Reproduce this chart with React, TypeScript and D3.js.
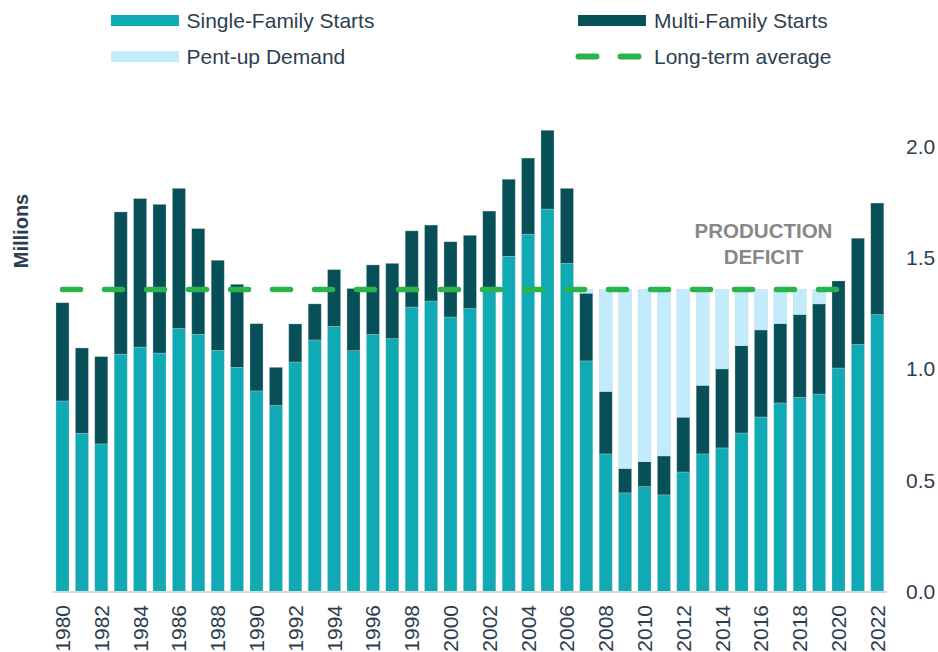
import React from "react";
import * as d3 from "d3";

const years: number[] = [
  1980, 1981, 1982, 1983, 1984, 1985, 1986, 1987, 1988, 1989,
  1990, 1991, 1992, 1993, 1994, 1995, 1996, 1997, 1998, 1999,
  2000, 2001, 2002, 2003, 2004, 2005, 2006, 2007, 2008, 2009,
  2010, 2011, 2012, 2013, 2014, 2015, 2016, 2017, 2018, 2019,
  2020, 2021, 2022,
];

const singleFamily: number[] = [
  0.856, 0.711, 0.663, 1.066, 1.098, 1.071, 1.182, 1.155, 1.083, 1.007,
  0.901, 0.836, 1.031, 1.130, 1.191, 1.082, 1.155, 1.136, 1.278, 1.305,
  1.233, 1.271, 1.349, 1.506, 1.605, 1.718, 1.474, 1.036, 0.618, 0.443,
  0.471, 0.434, 0.537, 0.618, 0.645, 0.712, 0.784, 0.847, 0.872, 0.887,
  1.004, 1.110, 1.244,
];

const multiFamily: number[] = [
  0.441, 0.383, 0.392, 0.639, 0.667, 0.668, 0.629, 0.475, 0.405, 0.373,
  0.302, 0.171, 0.171, 0.162, 0.255, 0.279, 0.312, 0.338, 0.342, 0.341,
  0.338, 0.329, 0.360, 0.346, 0.342, 0.354, 0.337, 0.304, 0.280, 0.109,
  0.112, 0.175, 0.246, 0.308, 0.355, 0.392, 0.391, 0.356, 0.372, 0.405,
  0.391, 0.477, 0.501,
];

const pentUp: number[] = [
  0, 0, 0, 0, 0, 0, 0, 0, 0, 0,
  0, 0, 0, 0, 0, 0, 0, 0, 0, 0,
  0, 0, 0, 0, 0, 0, 0, 0.017, 0.459, 0.805,
  0.774, 0.748, 0.574, 0.431, 0.357, 0.253, 0.182, 0.154, 0.113, 0.065,
  0, 0, 0,
];

const longTermAverage = 1.357;
const averageFrom = 1980;
const averageTo = 2020;

const yTicks: number[] = [0, 0.5, 1.0, 1.5, 2.0];

const legendItems = [
  { label: "Single-Family Starts", kind: "rect", color: "#10aab5" },
  { label: "Multi-Family Starts", kind: "rect", color: "#075057" },
  { label: "Pent-up Demand", kind: "rect", color: "#c2ecfb" },
  { label: "Long-term average", kind: "dash", color: "#2bb34b" },
];

const C_SINGLE = "#10aab5";
const C_MULTI = "#075057";
const C_PENT = "#c2ecfb";
const C_AVG = "#2bb34b";
const C_TEXT = "#2d3e50";
const FONT = "'Liberation Sans', Arial, Helvetica, sans-serif";

export default function App() {
  const W = 938;
  const H = 652;

  const x = d3
    .scaleBand<number>()
    .domain(years)
    .range([52.8, 887.0])
    .paddingInner(0.33)
    .paddingOuter(0.165);

  const y = d3.scaleLinear().domain([0, 2]).range([591.5, 146.3]);

  const rows = years.map((yr, i) => ({
    year: yr,
    single: singleFamily[i],
    multi: multiFamily[i],
    pent: pentUp[i],
  }));

  const stack = d3
    .stack<any>()
    .keys(["single", "multi", "pent"])(rows);
  const colors: Record<string, string> = {
    single: C_SINGLE,
    multi: C_MULTI,
    pent: C_PENT,
  };

  const cx = (yr: number) => (x(yr) as number) + x.bandwidth() / 2;

  const legendPos = [
    { sx: 111, tx: 186.5, y: 20.5 },
    { sx: 578, tx: 654, y: 20.5 },
    { sx: 111, tx: 186.5, y: 56.5 },
    { sx: 578, tx: 654, y: 56.5 },
  ];

  return (
    <svg
      width={W}
      height={H}
      style={{ position: "absolute", left: 0, top: 0, background: "#fff" }}
      fontFamily={FONT}
    >
      {/* Legend */}
      {legendItems.map((it, i) => {
        const p = legendPos[i];
        return (
          <g key={it.label}>
            {it.kind === "rect" ? (
              <rect x={p.sx} y={p.y - 5.5} width={68} height={11} fill={it.color} />
            ) : (
              <line
                x1={p.sx + 0.5}
                x2={p.sx + 61}
                y1={p.y}
                y2={p.y}
                stroke={it.color}
                strokeWidth={6}
                strokeLinecap="round"
                strokeDasharray="18 24"
              />
            )}
            <text
              x={p.tx}
              y={p.y}
              dominantBaseline="central"
              fontSize={21}
              fill={C_TEXT}
            >
              {it.label}
            </text>
          </g>
        );
      })}

      {/* Bars */}
      {stack.map((layer) => (
        <g key={layer.key} fill={colors[layer.key]}>
          {layer.map((d: any, i: number) =>
            d[1] - d[0] > 0 ? (
              <rect
                key={i}
                x={x(d.data.year)}
                y={y(d[1])}
                width={x.bandwidth()}
                height={y(d[0]) - y(d[1])}
                stroke="rgba(190,205,205,0.55)"
                strokeWidth={0.6}
              />
            ) : null
          )}
        </g>
      ))}

      {/* Baseline */}
      <line x1={52.8} x2={887} y1={y(0) + 0.5} y2={y(0) + 0.5} stroke="#d9d9d9" strokeWidth={2} />

      {/* Long-term average */}
      <line
        x1={cx(averageFrom)}
        x2={cx(averageTo)}
        y1={y(longTermAverage)}
        y2={y(longTermAverage)}
        stroke={C_AVG}
        strokeWidth={5.5}
        strokeLinecap="round"
        strokeDasharray="18 24"
      />

      {/* Annotation */}
      <text
        x={763.5}
        fontSize={20.5}
        fontWeight="bold"
        fill="#878787"
        textAnchor="middle"
      >
        <tspan x={763.5} y={238.3}>PRODUCTION</tspan>
        <tspan x={763.5} y={264}>DEFICIT</tspan>
      </text>

      {/* Y axis labels */}
      {yTicks.map((t) => (
        <text
          key={t}
          x={906}
          y={y(t)}
          dominantBaseline="central"
          fontSize={21}
          fill={C_TEXT}
        >
          {d3.format(".1f")(t)}
        </text>
      ))}

      {/* Y axis title */}
      <text
        transform="translate(21,231) rotate(-90)"
        textAnchor="middle"
        dominantBaseline="central"
        fontSize={20}
        fontWeight="bold"
        fill={C_TEXT}
      >
        Millions
      </text>

      {/* X axis labels */}
      {years
        .filter((yr) => yr % 2 === 0)
        .map((yr) => (
          <text
            key={yr}
            transform={`translate(${cx(yr)},605) rotate(-90)`}
            textAnchor="end"
            dominantBaseline="central"
            fontSize={21}
            fill={C_TEXT}
          >
            {yr}
          </text>
        ))}
    </svg>
  );
}
